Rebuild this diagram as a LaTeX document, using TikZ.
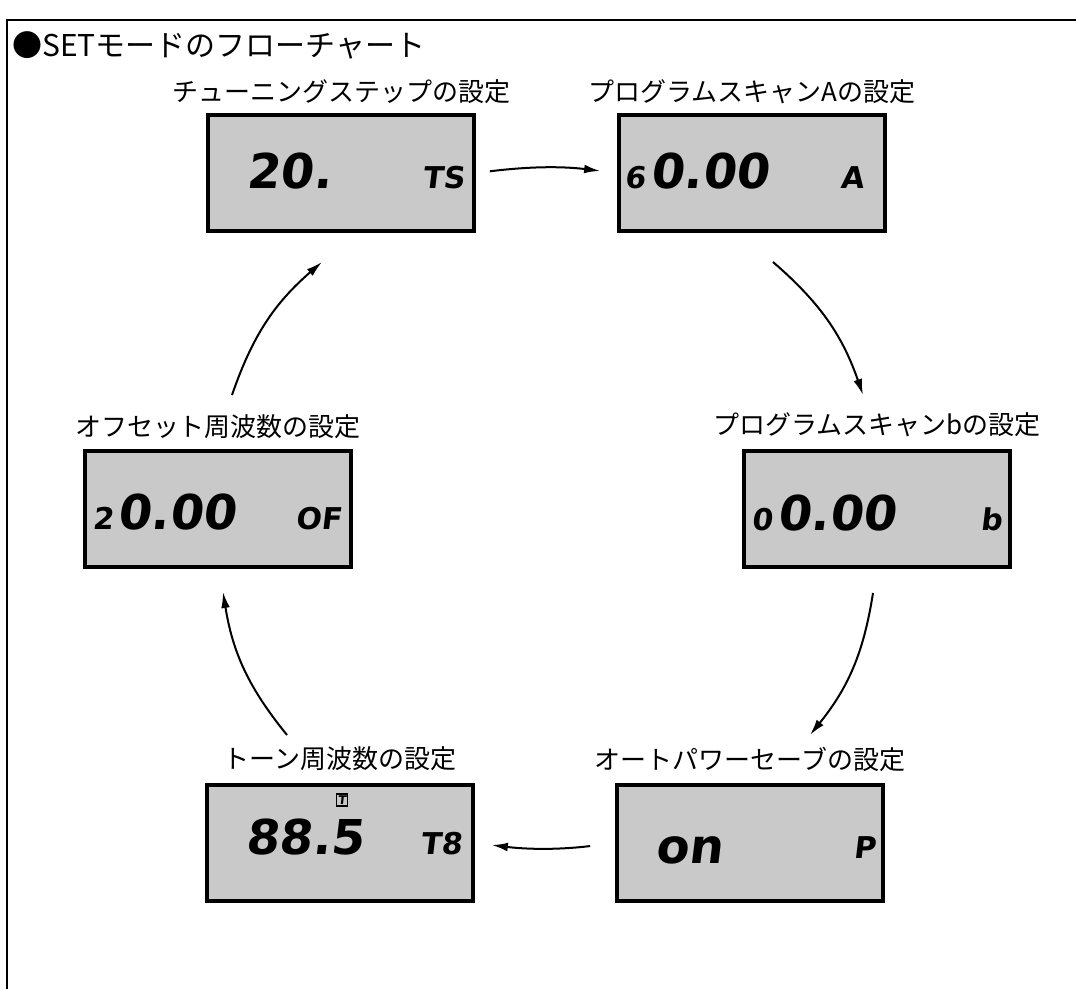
\documentclass[tikz,border=0pt]{standalone}
\usepackage{fontspec}
\usepackage{xcolor}
\usepackage{tikz}
\usetikzlibrary{arrows.meta,positioning}
\newfontfamily\jpfont{Noto Sans CJK JP}
\newfontfamily\segfont[FakeSlant=0.12]{DejaVu Sans}
\definecolor{lcdgray}{HTML}{C9C9C9}

\begin{document}
\begin{tikzpicture}[x=0.5pt,y=-0.5pt,
  lcd/.style={draw=black,line width=2pt,fill=lcdgray,minimum width=133pt,minimum height=58pt,inner sep=0pt},
  lab/.style={font=\jpfont\fontsize{13}{15}\selectfont,inner sep=0pt},
  seg/.style={font=\segfont\bfseries\fontsize{24}{24}\selectfont,anchor=base west,inner sep=0pt},
  tag/.style={font=\segfont\bfseries\fontsize{15}{15}\selectfont,anchor=base west,inner sep=0pt},
  arr/.style={-{Latex[length=8pt,width=4.4pt]},line width=1pt}]
\useasboundingbox (0,0) rectangle (1076,989);
% frame and title
\draw[line width=0.9pt] (7,989) -- (7,20) -- (1076,20);
\node[anchor=west,inner sep=0pt,font=\jpfont\fontsize{15}{17}\selectfont] (title) at (12,45) {●SETモードのフローチャート};
% displays
\node[lcd] (ts) at (341,173) {};
\node[lcd] (pa) at (752,173) {};
\node[lcd] (pb) at (877,509) {};
\node[lcd] (ap) at (750,843) {};
\node[lcd] (tn) at (340,843) {};
\node[lcd] (of) at (218,509) {};
% captions
\node[lab] (tsl) at (341,92) {チューニングステップの設定};
\node[lab] (pal) at (752,92) {プログラムスキャンAの設定};
\node[lab] (pbl) at (877,425) {プログラムスキャンbの設定};
\node[lab] (apl) at (750,759) {オートパワーセーブの設定};
\node[lab] (tnl) at (340,759) {トーン周波数の設定};
\node[lab] (ofl) at (218,427) {オフセット周波数の設定};
% readings
\node[seg] (tsv) at (246,189) {20.};
\node[tag] (tsu) at (422,189) {TS};
\node[tag] (pas) at (624,189) {6};
\node[seg] (pav) at (650,189) {0.00};
\node[tag] (pau) at (840,189) {A};
\node[tag] (pbs) at (751,530) {0};
\node[seg] (pbv) at (777,530) {0.00};
\node[tag] (pbu) at (980,530) {b};
\node[tag] (ofs) at (92,529) {2};
\node[seg] (ofv) at (117,529) {0.00};
\node[tag] (ofu) at (295,529) {OF};
\node[seg] (apv) at (655,863) {on};
\node[tag] (apu) at (853,858) {P};
\node[seg] (tnv) at (245,854) {88.5};
\node[tag] (tnu) at (420,854) {T8};
\node[draw,line width=0.7pt,inner sep=0.8pt,font=\segfont\bfseries\fontsize{6}{6}\selectfont] (tnt) at (342,800) {T};
% cycle
\draw[arr,shorten <=7pt,shorten >=8.5pt] (ts.east) to[bend left=7] (pa.west);
\draw[arr] ([shift={(21,29)}]pa.south) to[bend left=15] ([shift={(-14,-54)}]pb.north);
\draw[arr] ([shift={(-4,24)}]pb.south) to[bend left=15] ([shift={(60,-48)}]ap.north);
\draw[arr,shorten <=12.5pt,shorten >=8.5pt] (ap.west) to[bend left=7] (tn.east);
\draw[arr] ([shift={(-53,-48)}]tn.north) to[bend left=15] ([shift={(5,23)}]of.south);
\draw[arr] ([shift={(14,-54)}]of.north) to[bend left=15] ([shift={(-19,29)}]ts.south);
\end{tikzpicture}
\end{document}
